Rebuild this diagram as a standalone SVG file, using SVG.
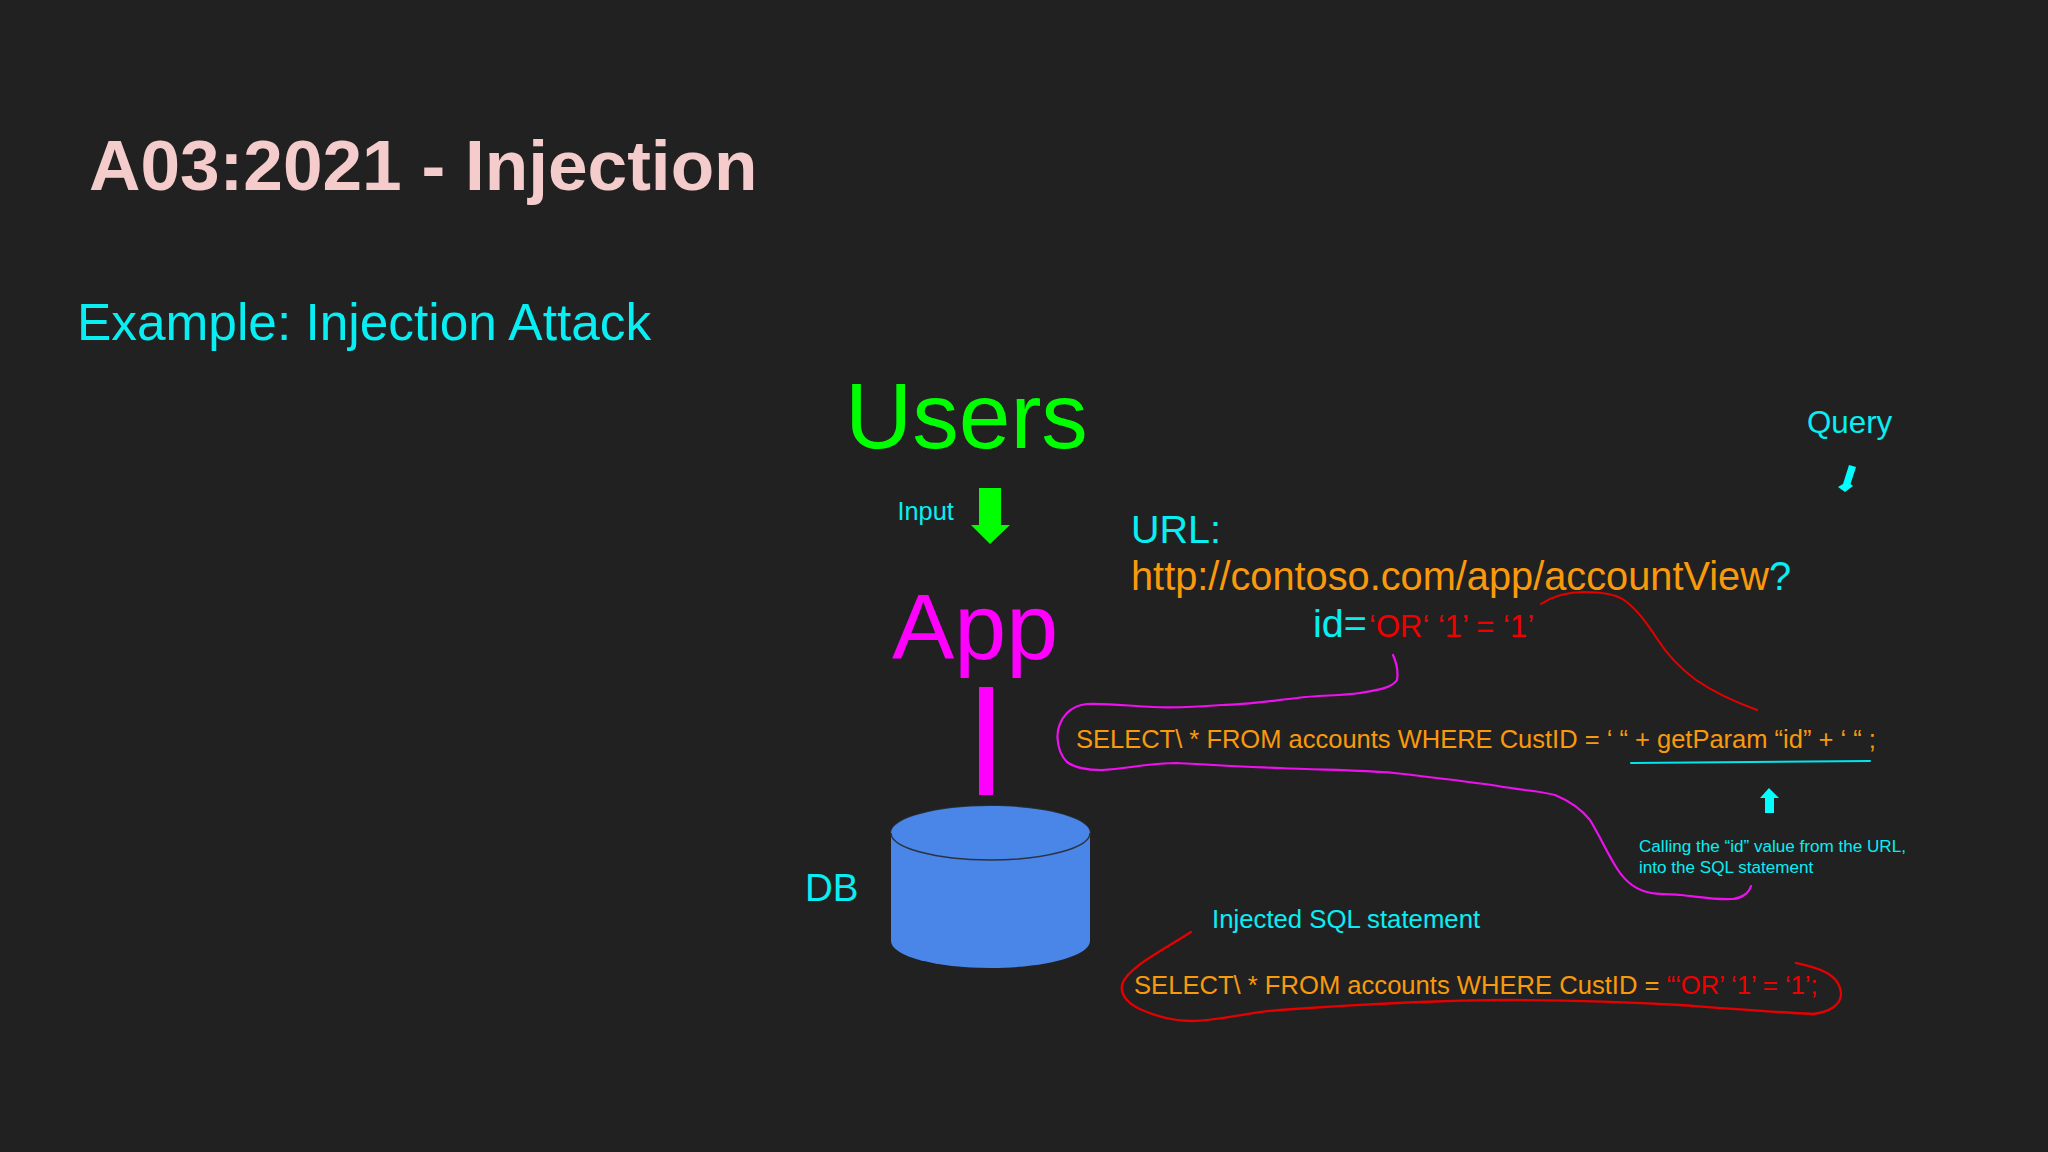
<svg xmlns="http://www.w3.org/2000/svg" width="2048" height="1152" viewBox="0 0 2048 1152">
<style>
text{font-family:"Liberation Sans",Arial,sans-serif;white-space:pre}
.c{fill:#08eef2}.o{fill:#f99a0c}.r{fill:#f00000}
.l{fill:none;stroke-linecap:round;stroke-linejoin:round}
</style>
<rect width="2048" height="1152" fill="#212122"/>
<text x="89" y="190" font-size="71.200" font-weight="700" fill="#f4cccc">A03:2021 - Injection</text>
<text x="77" y="340" font-size="51.400" class="c">Example: Injection Attack</text>
<g id="users"><text x="845" y="448" font-size="93" fill="#00ff00">Users</text></g>
<g id="input"><text x="897.500" y="520" font-size="25.300" class="c">Input</text></g>
<g id="app"><text x="892" y="659" font-size="93.500" fill="#ff00ff">App</text></g>
<g id="db">
<path d="M891 833V941C891 956 936 968 990.500 968S1090 956 1090 941V833Z" fill="#4a86e8"/>
<ellipse cx="990.500" cy="833" rx="99.500" ry="27" fill="#4a86e8" stroke="#2b3340" stroke-width="1.500"/>
<path d="M891 833C891 818 936 806 990.500 806S1090 818 1090 833" fill="#4a86e8"/>
<text x="805" y="901" font-size="38.500" class="c">DB</text>
</g>
<g id="url">
<text x="1131" y="543" font-size="39.500" class="c">URL:</text>
<text x="1131" y="590" font-size="39.750" class="o">http://contoso.com/app/accountView<tspan class="c">?</tspan></text>
<text x="1313" y="637" font-size="39.500" class="c">id=</text>
<text x="1369" y="637" font-size="31" class="r">‘OR‘ ‘1’ = ‘1’</text>
</g>
<g id="query"><text x="1807" y="433" font-size="31.300" class="c">Query</text></g>
<g id="select"><text x="1076" y="748" font-size="25.500" class="o">SELECT\ * FROM accounts WHERE CustID = ‘ “ + getParam “id” + ‘ “ ;</text></g>
<g id="note"><text x="1639" y="852" font-size="17.100" class="c">Calling the “id” value from the URL,</text>
<text x="1639" y="873" font-size="17.100" class="c">into the SQL statement</text></g>
<g id="injected-label"><text x="1212" y="928" font-size="25.750" class="c">Injected SQL statement</text></g>
<g id="injected"><text x="1134" y="994" font-size="25.600" class="o">SELECT\ * FROM accounts WHERE CustID = <tspan class="r">“‘OR’ ‘1’ = ‘1’;</tspan></text></g>
<g id="connectors">
<path d="M979 488H1001V525H1010L990 544L971 525H979Z" fill="#00ff00"/>
<rect x="979" y="687" width="14" height="108" fill="#ff00ff"/>
<path d="M1849 465L1856 467L1850.500 484L1853 486L1845 492L1838 487L1843 484Z" fill="#00ffff"/>
<path d="M1769 788L1779 798H1774V813H1765V798H1760Z" fill="#00ffff"/>
<path class="l" stroke="#00e5ee" stroke-width="2" d="M1631 763L1870 761"/>
<path class="l" stroke="#ee11ee" stroke-width="2.200" d="M1393 655C1397 664 1398 674 1397 680C1392 688 1378 690 1360 693C1340 696 1318 695 1297 698C1270 701 1245 705 1222 705C1195 707 1175 708 1153 707C1130 706 1105 703 1087 704C1078 705 1072 708 1067 713C1060 720 1057 730 1057.500 738C1058 748 1061 756 1067 762C1075 768 1088 770 1102 770C1125 769 1150 763 1176 763C1210 765 1245 767 1280 768C1320 770 1360 770 1394 773C1430 777 1465 781 1498 786C1520 790 1540 791 1555 795C1572 802 1582 810 1590 820C1601 838 1608 855 1618 870C1626 882 1635 889 1647 892C1658 895 1670 894 1681 895C1700 897 1716 900 1733 899C1742 898 1749 893 1751 886"/>
<path class="l" stroke="#e60000" stroke-width="2" d="M1541 604C1553 596 1568 592 1584 592C1602 592 1615 594 1624 600C1638 610 1648 625 1658 640C1668 656 1680 668 1696 680C1715 693 1735 702 1757 710"/>
<path class="l" stroke="#e60000" stroke-width="2.300" d="M1191 932C1165 949 1126 968 1122 985C1120 996 1130 1005 1142 1010C1158 1017 1175 1021 1193 1021C1225 1020 1250 1012 1280 1010C1350 1005 1430 1000 1509 1000C1570 1000 1630 1002 1681 1005C1720 1008 1770 1012 1813 1014C1830 1012 1840 1005 1841 995C1841 985 1835 977 1825 972C1815 967 1805 965 1796 963"/>
</g>
</svg>
